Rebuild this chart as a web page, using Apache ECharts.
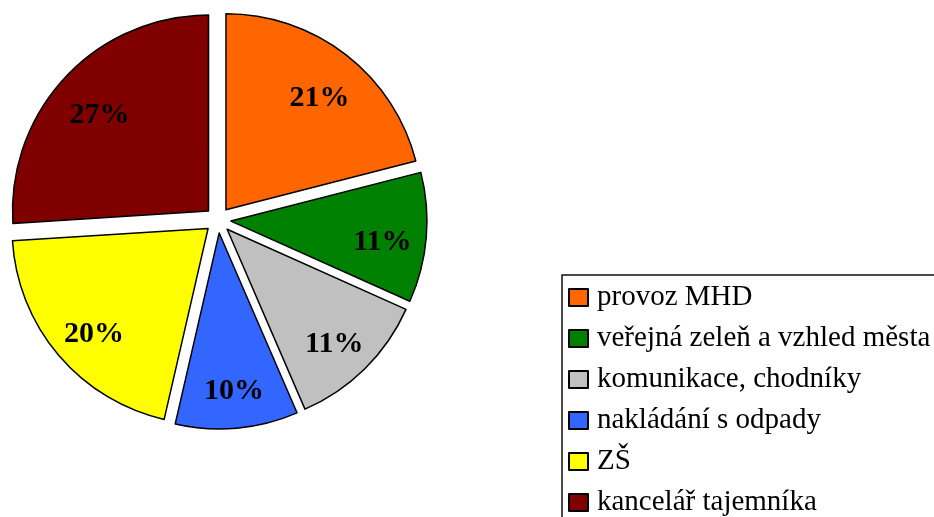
<!DOCTYPE html>
<html>
<head>
<meta charset="utf-8">
<script src="https://cdn.jsdelivr.net/npm/echarts@6/dist/echarts.min.js"></script>
<style>
  html, body { margin: 0; padding: 0; background: #fff; }
  #chart { width: 934px; height: 517px; }
</style>
</head>
<body>
<div id="chart"></div>
<script>
// slice shares as measured from the slice angles in the picture
const categories = ['provoz MHD', 'veřejná zeleň a vzhled města', 'komunikace, chodníky', 'nakládání s odpady', 'ZŠ', 'kancelář tajemníka'];
const values = [21.0, 10.7, 11.8, 10.1, 20.4, 26.0];
// percentages as printed on the slices
const percentLabels = ['21%', '11%', '11%', '10%', '20%', '27%'];
const colors = ['#FF6600', '#008000', '#C0C0C0', '#3366FF', '#FFFF00', '#800000'];

const FONT = '"Liberation Serif", "Times New Roman", serif';
const center = [218, 220];
const labelCenter = [219, 228];
const offset = 13;

const chart = echarts.init(document.getElementById('chart'));

const pieData = categories.map((name, i) => ({
  name: name,
  value: values[i],
  selected: true,
  itemStyle: { color: colors[i] }
}));

// transparent copy only used to place the labels further out
const labelData = categories.map((name, i) => ({
  name: name,
  value: values[i],
  selected: true
}));

chart.setOption({
  animation: false,
  legend: {
    orient: 'vertical',
    left: 562,
    top: 275,
    height: 400,
    padding: [8, 10, 10, 6],
    itemGap: 12,
    itemWidth: 19,
    itemHeight: 17,
    icon: 'rect',
    borderColor: '#111',
    borderWidth: 1.5,
    selectedMode: false,
    data: categories,
    textStyle: {
      fontFamily: FONT,
      fontSize: 29,
      color: '#000',
      padding: [0, 0, 0, 4]
    }
  },
  series: [
    {
      type: 'pie',
      center: center,
      radius: 196,
      startAngle: 90,
      clockwise: true,
      selectedMode: 'multiple',
      selectedOffset: offset,
      avoidLabelOverlap: false,
      label: { show: false },
      labelLine: { show: false },
      emphasis: { disabled: true },
      itemStyle: { borderColor: '#000', borderWidth: 1.5 },
      select: { itemStyle: { borderColor: '#000', borderWidth: 1.5 } },
      data: pieData
    },
    {
      type: 'pie',
      center: labelCenter,
      radius: [96, 200],
      startAngle: 90,
      clockwise: true,
      selectedMode: 'multiple',
      selectedOffset: offset,
      silent: true,
      avoidLabelOverlap: false,
      emphasis: { disabled: true },
      itemStyle: { color: 'rgba(0,0,0,0)', borderWidth: 0 },
      select: { itemStyle: { color: 'rgba(0,0,0,0)', borderWidth: 0 } },
      label: {
        show: true,
        position: 'inside',
        formatter: (p) => percentLabels[p.dataIndex],
        fontFamily: FONT,
        fontWeight: 'bold',
        fontSize: 30,
        color: '#000'
      },
      labelLine: { show: false },
      data: labelData
    }
  ]
});
</script>
</body>
</html>
